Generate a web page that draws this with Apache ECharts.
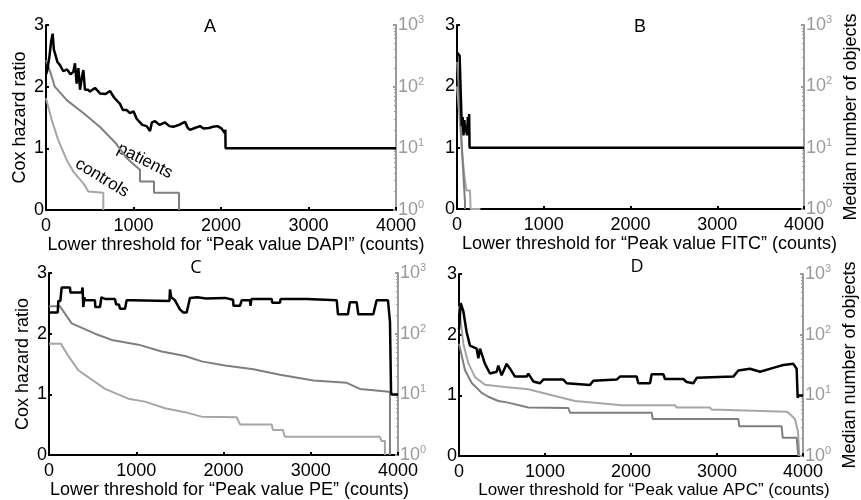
<!DOCTYPE html>
<html lang="en">
<head>
<meta charset="UTF-8">
<title>Cox hazard ratio vs lower threshold</title>
<script src="https://cdn.jsdelivr.net/npm/echarts@6/dist/echarts.min.js"></script>
<style>
  html, body { margin: 0; padding: 0; background: #fff; }
  #main { width: 861px; height: 500px; }
</style>
</head>
<body>
<div id="main"></div>
<script>
// ---- data ----
var xTicks = [0, 1000, 2000, 3000, 4000];
var leftTicks = [0, 1, 2, 3];
var rightTicks = [1, 10, 100, 1000];
var panelLetters = ['A', 'B', 'C', 'D'];
var xTitles = [
  'Lower threshold for \u201cPeak value DAPI\u201d (counts)',
  'Lower threshold for \u201cPeak value FITC\u201d (counts)',
  'Lower threshold for \u201cPeak value PE\u201d (counts)',
  'Lower threshold for \u201cPeak value APC\u201d (counts)'
];

// panel A
var hazardA = [[0,2.2],[15,2.27],[40,2.5],[60,2.75],[76,2.86],[90,2.6],[103,2.54],[130,2.4],[160,2.35],[198,2.25],[240,2.28],[280,2.2],[312,2.24],[331,2.38],[350,2.05],[370,2.3],[389,1.95],[410,2.15],[427,2.27],[445,1.95],[480,1.95],[503,1.92],[560,1.98],[617,1.89],[680,1.88],[731,1.93],[780,1.82],[846,1.72],[880,1.62],[922,1.62],[960,1.57],[1000,1.6],[1036,1.48],[1100,1.38],[1150,1.36],[1189,1.28],[1210,1.42],[1246,1.44],[1300,1.38],[1360,1.42],[1410,1.36],[1455,1.35],[1520,1.38],[1589,1.43],[1620,1.33],[1646,1.3],[1700,1.33],[1760,1.36],[1800,1.32],[1860,1.33],[1910,1.35],[1960,1.36],[2008,1.32],[2040,1.25],[2050,1.3],[2052,1],[4000,1]];
var patientsA = [[0,270],[60,155],[100,100],[240,60],[430,37],[620,22],[800,12],[920,7],[1000,5.5],[1074,4.5],[1074,2.9],[1234,2.9],[1234,1.9],[1520,1.9],[1520,1]];
var controlsA = [[0,65],[65,29],[140,13.6],[236,6.5],[312,4.2],[427,2.7],[484,2],[655,1.9],[655,1]];

// panel B
var hazardB = [[0,2.55],[30,2.5],[45,1.8],[55,1.35],[65,1.5],[75,1.2],[85,1.45],[95,1.25],[105,1.35],[115,1.2],[125,1.5],[135,1.25],[140,1.55],[145,1],[4000,1]];
var patientsB = [[0,250],[20,100],[40,30],[60,8],[80,2.5],[92,1.3],[92,1]];
var controlsB = [[0,100],[30,30],[60,8],[90,3],[110,2],[150,2],[157,1],[270,1]];

// panel C
var hazardC = [[0,2.35],[60,2.35],[100,2.35],[107,2.54],[130,2.54],[145,2.76],[241,2.76],[245,2.68],[375,2.68],[385,2.76],[393,2.44],[405,2.6],[413,2.55],[527,2.55],[530,2.44],[585,2.44],[600,2.6],[650,2.57],[756,2.57],[770,2.48],[802,2.48],[814,2.41],[871,2.41],[890,2.55],[948,2.55],[963,2.54],[1380,2.54],[1387,2.73],[1400,2.6],[1444,2.55],[1500,2.4],[1540,2.35],[1578,2.35],[1616,2.59],[1700,2.6],[1800,2.58],[2017,2.59],[2109,2.56],[2115,2.46],[2189,2.46],[2208,2.55],[2303,2.55],[2310,2.46],[2320,2.57],[2552,2.57],[2560,2.51],[2647,2.51],[2655,2.57],[2953,2.57],[2968,2.55],[3298,2.55],[3312,2.32],[3426,2.32],[3449,2.52],[3526,2.52],[3545,2.32],[3717,2.32],[3755,2.55],[3885,2.55],[3908,2.2],[3920,1.04],[3927,1],[4000,1]];
var patientsC = [[0,282],[126,282],[260,148],[527,100],[719,79],[1024,66],[1292,51],[1560,43],[1750,35],[2017,30],[2343,26],[2647,21],[3032,17],[3412,15.5],[3564,12.3],[3870,11.2],[3908,11],[3908,1]];
var controlsC = [[0,68],[137,68],[221,43],[336,25],[642,12.3],[909,8.5],[1100,7.6],[1330,5.9],[1559,5.1],[1750,4.3],[2150,4.2],[2189,3.2],[2552,3.2],[2567,2.6],[2681,2.6],[2704,2],[3793,2],[3812,1.7],[3850,1.7],[3850,1]];

// panel D
var hazardD = [[0,2.09],[20,2.52],[40,2.55],[50,2.39],[89,2.04],[128,1.82],[205,1.77],[225,1.61],[244,1.77],[302,1.52],[360,1.36],[438,1.39],[457,1.49],[496,1.33],[554,1.52],[593,1.44],[651,1.31],[787,1.31],[806,1.36],[864,1.23],[942,1.2],[980,1.26],[1213,1.26],[1252,1.2],[1523,1.17],[1562,1.24],[1833,1.26],[1872,1.31],[2066,1.31],[2085,1.2],[2221,1.2],[2240,1.35],[2376,1.35],[2395,1.27],[2608,1.27],[2647,1.22],[2725,1.2],[2764,1.29],[3190,1.31],[3248,1.41],[3384,1.44],[3500,1.39],[3694,1.47],[3771,1.5],[3888,1.52],[3926,1.44],[3938,0.96],[3950,1],[4000,1]];
var upperD = [[0,295],[50,71],[108,34],[186,20],[302,15],[535,13.8],[806,12.6],[1116,9.8],[1349,8.1],[1581,7.6],[1891,6.9],[2512,6.9],[2531,6.3],[2919,6.3],[2938,5.8],[3035,5.8],[3055,5.4],[3810,5.4],[3849,4.9],[3907,4.1],[3942,2.5],[3957,1]];
var lowerD = [[0,71],[70,26],[148,16],[264,11],[341,9.5],[457,8.1],[573,7.6],[806,6.3],[1271,6.2],[1291,5.2],[2240,5.2],[2252,4.1],[3248,4.1],[3259,3.1],[3752,3.1],[3764,2],[3926,2],[3946,1]];

// ---- layout ----
var grids = [
  { left: 46, right: 465, top: 25, bottom: 290 },
  { left: 457, right: 55, top: 25, bottom: 291 },
  { left: 49, right: 463, top: 273, bottom: 41 },
  { left: 459, right: 58, top: 274, bottom: 41 }
];
// x-title nudges to the right and font sizes, per panel
var titleShift = [30, 38, 12, 46];
var titleSize = [18, 18, 18, 17];
var dark = '#7f7f7f', light = '#a6a6a6', axisGray = '#9a9a9a';
var font = '"Liberation Sans", Arial, sans-serif';

var chart = echarts.init(document.getElementById('main'));

var xAxes = [], yAxes = [];
grids.forEach(function (g, i) {
  xAxes.push({
    type: 'value', gridIndex: i,
    min: xTicks[0], max: xTicks[xTicks.length - 1], interval: xTicks[1] - xTicks[0],
    name: xTitles[i], nameLocation: 'middle', nameGap: 12,
    nameTextStyle: { fontSize: titleSize[i], color: '#000', padding: [0, 0, 0, titleShift[i]] },
    axisLine: { lineStyle: { color: '#000', width: 2 } },
    axisTick: { inside: true, length: 3, lineStyle: { color: '#000', width: 2 } },
    axisLabel: {
      fontSize: 18, color: '#000', margin: 7, showMaxLabel: true, showMinLabel: true,
      formatter: function (v) { return String(v); }
    },
    splitLine: { show: false }
  });
  yAxes.push({
    type: 'value', gridIndex: i, position: 'left',
    min: leftTicks[0], max: leftTicks[leftTicks.length - 1], interval: 1,
    name: (i % 2 === 0) ? 'Cox hazard ratio' : '',
    nameLocation: 'middle', nameGap: 17, nameRotate: 90,
    nameTextStyle: { fontSize: 18, color: '#000' },
    axisLine: { show: true, lineStyle: { color: '#000', width: 2 } },
    axisTick: { show: true, inside: true, length: 3, lineStyle: { color: '#000', width: 2 } },
    axisLabel: { fontSize: 18, color: '#000', margin: 2 },
    splitLine: { show: false }
  });
  yAxes.push({
    type: 'log', gridIndex: i, position: 'right', logBase: 10,
    min: rightTicks[0], max: rightTicks[rightTicks.length - 1],
    name: (i % 2 === 1) ? 'Median number of objects' : '',
    nameLocation: 'middle', nameGap: 38, nameRotate: 90,
    nameTextStyle: { fontSize: 18, color: '#000' },
    axisLine: { show: true, lineStyle: { color: axisGray, width: 2 } },
    axisTick: { show: true, inside: true, length: 3, lineStyle: { color: axisGray, width: 2 } },
    minorTick: { show: true, splitNumber: 9, length: 2, lineStyle: { color: axisGray } },
    axisLabel: {
      margin: 2,
      formatter: function (v) {
        return '{b|10}{s|' + Math.round(Math.log10(v)) + '}';
      },
      rich: {
        b: { fontSize: 18, color: axisGray, fontFamily: font },
        s: { fontSize: 11, color: axisGray, fontFamily: font, verticalAlign: 'top', padding: [0, 0, 10, 0] }
      }
    },
    splitLine: { show: false }
  });
});

function line(data, gi, yi, color) {
  var black = color === '#000';
  return {
    type: 'line', data: data, xAxisIndex: gi, yAxisIndex: yi,
    showSymbol: false, symbol: 'none', silent: true, animation: false,
    lineStyle: { color: color, width: black ? 2.5 : 2 }, z: black ? 3 : 2
  };
}

var series = [
  line(controlsA, 0, 1, light), line(patientsA, 0, 1, dark), line(hazardA, 0, 0, '#000'),
  line(controlsB, 1, 3, light), line(patientsB, 1, 3, dark), line(hazardB, 1, 2, '#000'),
  line(controlsC, 2, 5, light), line(patientsC, 2, 5, dark), line(hazardC, 2, 4, '#000'),
  line(upperD, 3, 7, light), line(lowerD, 3, 7, dark), line(hazardD, 3, 6, '#000')
];

var letterPos = [[210, 27, font], [640, 27, font], [196, 268, '"Open Sans", sans-serif'], [637, 267, '"Open Sans", sans-serif']];
var graphics = letterPos.map(function (p, i) {
  return {
    type: 'text', x: p[0], y: p[1],
    style: { text: panelLetters[i], font: '18px ' + p[2], fill: '#000',
      textAlign: 'center', textVerticalAlign: 'middle', align: 'center', verticalAlign: 'middle' }
  };
});
graphics.push({
  type: 'text', x: 145, y: 161, rotation: -0.47,
  style: { text: 'patients', font: '17px ' + font, fill: '#000',
    textAlign: 'center', textVerticalAlign: 'middle', align: 'center', verticalAlign: 'middle' }
});
graphics.push({
  type: 'text', x: 102, y: 178, rotation: -0.55,
  style: { text: 'controls', font: '17px ' + font, fill: '#000',
    textAlign: 'center', textVerticalAlign: 'middle', align: 'center', verticalAlign: 'middle' }
});

chart.setOption({
  animation: false,
  backgroundColor: '#fff',
  textStyle: { fontFamily: font },
  grid: grids,
  xAxis: xAxes,
  yAxis: yAxes,
  series: series,
  graphic: graphics
});
</script>
</body>
</html>
